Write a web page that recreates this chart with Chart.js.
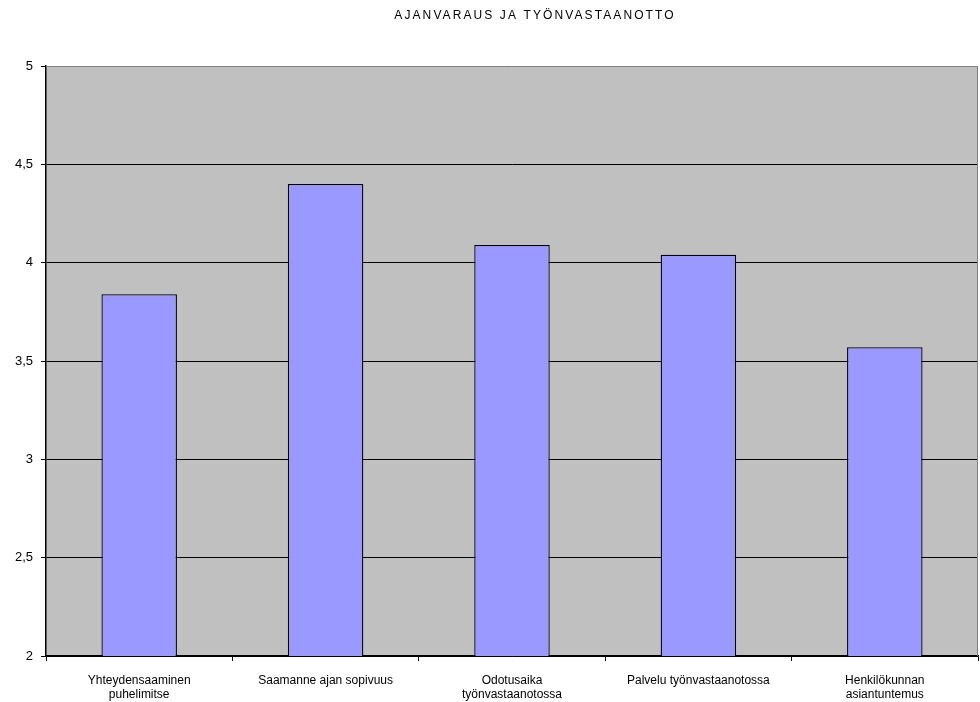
<!DOCTYPE html>
<html>
<head>
<meta charset="utf-8">
<script src="https://cdn.jsdelivr.net/npm/chart.js@4"></script>
<style>
  html, body { margin: 0; padding: 0; background: #fff; }
  #wrap { width: 980px; height: 702px; }
</style>
</head>
<body>
<div id="wrap"><canvas id="chart" width="980" height="702"></canvas></div>
<script>
// Data
const TITLE = 'AJANVARAUS JA TYÖNVASTAANOTTO';
const CATEGORIES = [
    ['Yhteydensaaminen', 'puhelimitse'],
    'Saamanne ajan sopivuus',
    ['Odotusaika', 'työnvastaanotossa'],
    'Palvelu työnvastaanotossa',
    ['Henkilökunnan', 'asiantuntemus']
];
const VALUES = [3.84, 4.40, 4.09, 4.04, 3.57];
const Y_MIN = 2;
const Y_MAX = 5;
const Y_STEP = 0.5;

const FONT = '"Liberation Sans", Arial, sans-serif';

// plot background + gray frame on top/right, title
const plotDecor = {
    id: 'plotDecor',
    beforeDraw(chart) {
        const { ctx, chartArea: a } = chart;
        ctx.save();
        ctx.fillStyle = '#c0c0c0';
        ctx.fillRect(a.left, a.top, a.right - a.left, a.bottom - a.top);
        ctx.restore();
    },
    afterDraw(chart) {
        const { ctx, chartArea: a } = chart;
        ctx.save();
        ctx.strokeStyle = '#808080';
        ctx.lineWidth = 1;
        ctx.beginPath();
        ctx.moveTo(a.left, a.top + 0.5);
        ctx.lineTo(a.right - 0.5, a.top + 0.5);
        ctx.lineTo(a.right - 0.5, a.bottom);
        ctx.stroke();

        ctx.fillStyle = '#000';
        ctx.font = '12px ' + FONT;
        ctx.letterSpacing = '2.1px';
        ctx.textAlign = 'center';
        ctx.textBaseline = 'middle';
        ctx.fillText(TITLE, 535, 16);
        ctx.restore();
    }
};

new Chart(document.getElementById('chart'), {
    type: 'bar',
    data: {
        labels: CATEGORIES,
        datasets: [{
            data: VALUES,
            backgroundColor: '#9999ff',
            borderColor: '#000000',
            borderWidth: 1.3,
            borderSkipped: 'bottom',
            categoryPercentage: 1,
            barPercentage: 0.405
        }]
    },
    options: {
        responsive: false,
        animation: false,
        layout: { padding: { top: 66, right: 2, left: 0, bottom: 0 } },
        plugins: {
            legend: { display: false },
            tooltip: { enabled: false },
            title: { display: false }
        },
        scales: {
            x: {
                offset: true,
                grid: {
                    offset: true,
                    drawOnChartArea: false,
                    color: '#000',
                    tickLength: 5,
                    lineWidth: 1
                },
                border: { color: '#000', width: 1.5 },
                ticks: {
                    color: '#000',
                    font: { family: FONT, size: 12, lineHeight: 1.15 },
                    padding: 13,
                    maxRotation: 0,
                    autoSkip: false
                },
                afterFit(scale) { scale.height = 46; }
            },
            y: {
                min: Y_MIN,
                max: Y_MAX,
                ticks: {
                    stepSize: Y_STEP,
                    color: '#000',
                    font: { family: FONT, size: 13 },
                    padding: 8,
                    callback: v => String(v).replace('.', ',')
                },
                grid: {
                    color: ctx => ctx.tick && ctx.tick.value === Y_MAX ? 'rgba(0,0,0,0)' : '#000',
                    tickColor: '#000',
                    tickLength: 5,
                    lineWidth: 1
                },
                border: { color: '#000', width: 1.5 },
                afterFit(scale) { scale.width = 46; }
            }
        }
    },
    plugins: [plotDecor]
});
</script>
</body>
</html>
